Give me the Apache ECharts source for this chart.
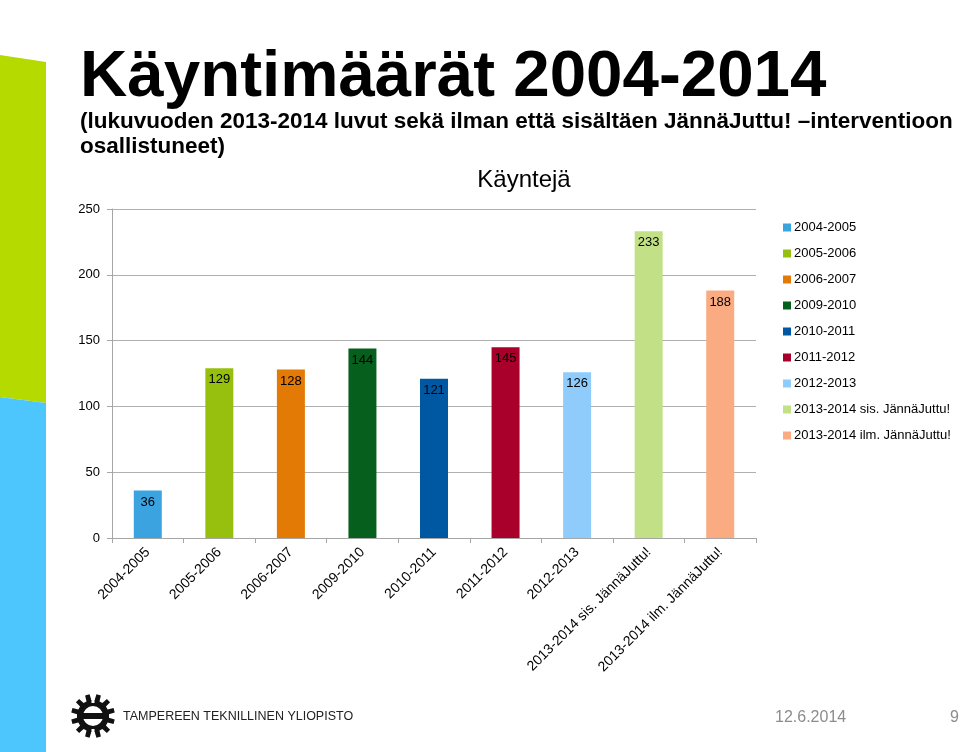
<!DOCTYPE html>
<html>
<head>
<meta charset="utf-8">
<script src="https://cdn.jsdelivr.net/npm/echarts@6/dist/echarts.min.js"></script>
<style>html,body{margin:0;padding:0;background:#fff}#c{width:960px;height:752px}</style>
</head>
<body>
<div id="c"></div>
<script>
var categories = ['2004-2005','2005-2006','2006-2007','2009-2010','2010-2011','2011-2012','2012-2013','2013-2014 sis. JännäJuttu!','2013-2014 ilm. JännäJuttu!'];
var values = [36,129,128,144,121,145,126,233,188];
var colors = ['#3aa3e0','#97c00e','#e37a06','#065f1d','#0058a3','#a8002a','#8fccfb','#c2e085','#fbab82'];
var yTicks = {min:0, max:250, interval:50};
var titleText = 'Käyntimäärät 2004-2014';
var subtitle1 = '(lukuvuoden 2013-2014 luvut sekä ilman että sisältäen JännäJuttu! –interventioon';
var subtitle2 = 'osallistuneet)';
var chartTitle = 'Käyntejä';
var footerOrg = 'TAMPEREEN TEKNILLINEN YLIOPISTO';
var footerDate = '12.6.2014';
var pageNo = '9';

var FF = "'Liberation Sans', Arial, sans-serif";

var series = categories.map(function(name, i){
  return {
    name: name,
    type: 'bar',
    stack: 'all',
    barWidth: 28,
    itemStyle: {color: colors[i]},
    label: {show: true, position: 'insideTop', distance: 5, color: '#000', fontSize: 13, fontFamily: FF},
    data: categories.map(function(c, j){ return j === i ? values[i] : '-'; })
  };
});

// gear logo polygon (decoration)
function gearPoints(cx, cy, rOut, rIn, teeth){
  var pts = [];
  var step = Math.PI*2/teeth;
  for (var k=0;k<teeth;k++){
    var a = k*step + step/2;
    var a1 = a - step*0.2, a2 = a + step*0.2, a3 = a + step*0.3, a4 = a + step*0.7;
    pts.push([cx+rOut*Math.cos(a1), cy+rOut*Math.sin(a1)]);
    pts.push([cx+rOut*Math.cos(a2), cy+rOut*Math.sin(a2)]);
    pts.push([cx+rIn*Math.cos(a3), cy+rIn*Math.sin(a3)]);
    pts.push([cx+rIn*Math.cos(a4), cy+rIn*Math.sin(a4)]);
  }
  return pts;
}
var gx = 93, gy = 716;

var chart = echarts.init(document.getElementById('c'));
chart.setOption({
  animation: false,
  backgroundColor: '#fff',
  title: {
    text: chartTitle, left: 519, top: 163, textAlign: 'center',
    textStyle: {fontSize: 24, fontWeight: 'normal', color: '#000', fontFamily: FF}
  },
  legend: {
    orient: 'vertical', left: 778, top: 216,
    itemWidth: 8, itemHeight: 8, itemGap: 13,
    icon: 'rect',
    textStyle: {fontSize: 13, color: '#000', fontFamily: FF, padding: [0,0,0,-2]},
    data: categories
  },
  grid: {left: 112, right: 204, top: 209, bottom: 214},
  xAxis: {
    type: 'category', data: categories,
    axisLine: {lineStyle: {color: '#a6a6a6'}},
    axisTick: {show: true, length: 5, lineStyle: {color: '#a6a6a6'}},
    axisLabel: {rotate: 45, interval: 0, fontSize: 14, color: '#000', fontFamily: FF, margin: 12}
  },
  yAxis: {
    type: 'value', min: yTicks.min, max: yTicks.max, interval: yTicks.interval,
    axisLine: {show: true, lineStyle: {color: '#a6a6a6'}},
    axisTick: {show: true, length: 5, lineStyle: {color: '#a6a6a6'}},
    splitLine: {lineStyle: {color: '#b0b0b0'}},
    axisLabel: {fontSize: 13, color: '#000', fontFamily: FF, margin: 12}
  },
  series: series,
  graphic: [
    {type: 'polygon', shape: {points: [[0,55],[46,62],[46,403],[0,397]]}, style: {fill: '#b5da00'}, silent: true},
    {type: 'polygon', shape: {points: [[0,397],[46,403],[46,752],[0,752]]}, style: {fill: '#4dc6fd'}, silent: true},
    {type: 'text', left: 80, top: 45, style: {text: titleText, font: "bold 65.5px 'Liberation Sans', Arial", fill: '#000'}},
    {type: 'text', left: 80, top: 110, style: {text: subtitle1, font: "bold 22.5px 'Liberation Sans', Arial", fill: '#000'}},
    {type: 'text', left: 80, top: 135, style: {text: subtitle2, font: "bold 22.5px 'Liberation Sans', Arial", fill: '#000'}},
    {type: 'polygon', shape: {points: gearPoints(gx, gy, 22, 16, 12)}, style: {fill: '#111'}, silent: true},
    {type: 'circle', shape: {cx: gx, cy: gy, r: 10}, style: {fill: '#fff'}, silent: true},
    {type: 'rect', shape: {x: gx-1.5, y: gy-23, width: 3, height: 10}, style: {fill: '#fff'}, silent: true},
    {type: 'rect', shape: {x: gx-1.5, y: gy+13, width: 3, height: 10}, style: {fill: '#fff'}, silent: true},
    {type: 'rect', shape: {x: gx-16, y: gy-3, width: 32, height: 6}, style: {fill: '#111'}, silent: true},
    {type: 'text', left: 123, top: 710, style: {text: footerOrg, font: "12.5px 'Liberation Sans', Arial", fill: '#222'}},
    {type: 'text', left: 775, top: 710, style: {text: footerDate, font: "16px 'Liberation Sans', Arial", fill: '#8c8c8c'}},
    {type: 'text', left: 950, top: 710, style: {text: pageNo, font: "16px 'Liberation Sans', Arial", fill: '#8c8c8c'}}
  ]
});
</script>
</body>
</html>
